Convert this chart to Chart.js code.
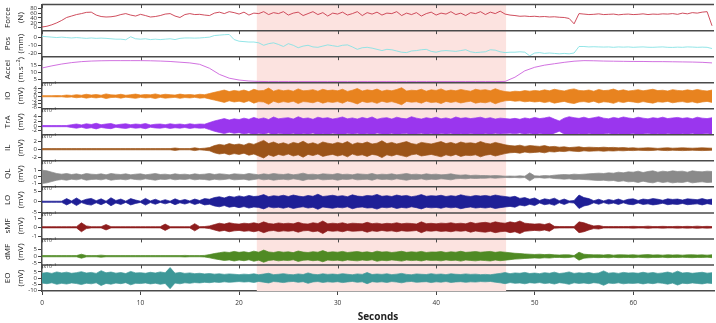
<!DOCTYPE html>
<html><head><meta charset="utf-8">
<script src="https://cdn.jsdelivr.net/npm/chart.js@4.4.1/dist/chart.umd.min.js"></script>
<style>html,body{margin:0;padding:0;background:#fff;}canvas{display:block;}</style>
</head><body>
<canvas id="c" width="716" height="323"></canvas>
<script>
// ---- sampling / axes ----
const sampleStep = 0.5;      // s between samples of force, pos and EMG envelopes
const accelStep = 1;         // s between accel samples
const xMax = 68.2;
const xTicks = [0, 10, 20, 30, 40, 50, 60];
const shadedSpan = [21.8, 47.1];

// ---- mechanical signals ----
const forceN = [3,6,12,20,30,42,48,54,58,63, 64,52,46,44,45,48,54,58,52,48, 55,50,44,46,50,56,58,48,42,54,
 58,54,55,52,50,60,64,58,66,62, 56,64,52,60,58,66,54,62,58,66, 52,60,64,50,58,66,54,62,48,60,
 56,64,52,58,66,50,62,56,64,52, 60,58,66,50,60,54,62,48,58,64, 52,60,56,66,54,60,50,62,58,66,
 54,64,58,68,56,52,50,47,48,46, 47,45,46,44,45,43,42,38,16,58, 56,54,55,57,54,55,56,53,55,56,
 54,55,57,54,56,55,57,56,58,55, 60,57,62,60,64,66,8];
const posMm = [1,0.5,0,-0.5,0,-0.5,-1,-0.5,-1,-1.5, -1,-1.5,-1.2,-1.5,-2,-2.5,-2.5,-3.2,0.5,-2,
 -2.5,-2,-3,-2.5,-3,-2.5,-2,-3,-1.5,-1, -1,-1.2,-1,-0.5,0,2,2.5,3,3.3,-3,
 -5,-5.5,-6,-6,-7,-10,-8,-7,-9,-11.5, -8,-10,-13,-11,-10,-12,-12.5,-11,-9.5,-10.5,
 -11.5,-10,-9.5,-12,-15,-13,-12.5,-13.5,-15,-16.5, -15,-15.5,-17,-18.5,-19,-17,-16.5,-15.5,-15,-17.5,
 -18.5,-17,-16.5,-17,-17.5,-16.5,-15.5,-18,-19,-18.5, -18,-15.5,-16,-18,-19,-18.5,-18.5,-18,-18.5,-23,
 -19.5,-19,-20,-19.5,-20,-20.5,-20,-20.5,-19.5,-11.5, -11.5,-12,-11.8,-12,-12.2,-12,-12.5,-12,-12.3,-12,
 -12.5,-12.2,-12,-12.4,-12.5,-12.2,-12,-12.5,-12.6,-12.3, -12.5,-12,-12.2,-12.5,-12.3,-12.5,-14];
const accelMs2 = [13,14.5,15.8,16.8,17.5,17.9,18.1,18.2,18.2,18.2, 18.2,18.1,17.9,17.6,17.1,16.6,15.6,12.8,8.5,5.8,
 4.5,3.8,3.5,3.4,3.4,3.4,3.4,3.4,3.4,3.4, 3.4,3.4,3.4,3.4,3.4,3.4,3.4,3.4,3.4,3.4,
 3.4,3.4,3.4,3.4,3.4,3.4,3.4,3.5,6.5,11, 13.5,15,16,17,17.8,18.2,18.1,17.9,17.8,17.7,
 17.6,17.6,17.5,17.5,17.4,17.3,17.2,17,16.6];

// ---- EMG amplitude envelopes (x10^-3 mV), one value per 0.5 s ----
const emgIO = [0.3,0.3,0.3,0.35,0.3,0.6,0.4,0.8,0.5,1.0, 0.6,0.9,0.5,1.2,0.7,0.6,1.0,0.5,0.8,1.1,
 0.6,0.9,0.7,1.2,0.6,1.0,0.8,0.6,1.1,0.7, 0.9,0.6,1.0,0.8,1.4,2.0,2.6,3.2,2.4,3.0,
 2.6,3.2,2.4,3.6,2.8,3.0,4.2,2.6,3.4,2.8, 3.2,2.6,3.8,2.8,3.0,3.4,2.6,3.6,2.9,3.2,
 2.8,3.6,2.5,3.1,4.0,2.7,3.3,2.9,3.7,2.6, 3.2,2.8,3.5,4.4,2.7,3.1,2.9,3.6,2.6,3.3,
 3.0,3.8,2.7,3.2,2.8,3.5,3.0,2.6,3.6,3.1, 3.4,2.8,3.9,3.0,2.4,2.2,2.6,2.4,2.9,2.6,
 3.0,2.7,3.3,2.8,3.6,3.1,2.7,3.4,3.8,3.0, 2.8,3.2,2.6,3.5,2.9,3.1,3.7,2.8,3.3,2.7,
 3.0,3.4,2.8,3.2,3.6,2.9,3.1,2.7,3.4,3.0, 2.8,3.3,2.9,3.5,3.0,2.7,3.2];
const emgTrA = [0.25,0.25,0.25,0.25,0.25,0.25,0.6,0.9,0.5,1.0, 0.7,1.2,0.6,0.9,1.1,0.5,0.8,1.0,0.6,0.9,
 0.7,1.1,0.5,0.8,0.9,0.6,1.0,0.7,0.9,0.6, 1.0,0.7,0.9,0.8,1.5,2.2,2.7,3.2,2.6,3.1,
 2.8,3.4,2.9,3.7,3.0,3.5,2.8,3.9,3.1,3.4, 3.6,3.0,4.0,3.2,3.5,2.9,3.8,3.3,3.6,3.0,
 3.4,3.9,3.1,3.5,3.0,3.7,3.2,3.9,2.9,3.4, 3.6,3.0,3.8,3.3,3.1,4.0,3.4,3.0,3.6,3.2,
 3.8,3.1,3.5,3.0,3.9,3.3,3.6,3.2,3.5,3.8, 3.2,3.6,3.0,3.4,3.2,3.0,3.3,2.9,3.5,3.1,
 3.7,3.2,3.5,3.9,3.0,2.2,3.4,4.0,3.6,3.3, 3.8,3.2,3.6,4.0,3.4,3.1,3.7,3.3,3.9,3.5,
 3.2,3.8,3.4,3.1,3.6,3.3,3.8,3.2,3.5,3.7, 3.3,3.6,3.1,3.8,3.4,3.2,3.6];
const emgIL = [0.15,0.15,0.15,0.15,0.15,0.15,0.15,0.15,0.15,0.15, 0.15,0.15,0.15,0.15,0.15,0.15,0.15,0.15,0.15,0.15,
 0.15,0.15,0.15,0.15,0.15,0.15,0.15,0.3,0.15,0.15, 0.15,0.35,0.15,0.25,0.4,0.9,1.2,1.0,1.4,1.1,
 1.3,1.0,1.5,1.2,1.7,2.2,1.4,1.8,1.3,1.6, 1.2,1.7,1.4,2.0,1.3,1.6,1.2,1.8,1.5,1.3,
 1.7,1.4,1.9,1.2,1.6,1.4,1.8,1.3,1.5,2.1, 1.4,1.7,1.3,1.6,1.9,1.4,1.2,1.7,1.5,1.3,
 1.6,1.9,1.4,1.7,1.3,1.8,1.5,1.6,1.4,1.9, 1.5,1.3,1.7,1.4,1.1,0.9,0.8,1.0,0.7,0.9,
 0.8,0.7,0.9,0.6,0.7,0.5,0.6,0.4,0.5,0.6, 0.4,0.5,0.45,0.4,0.5,0.4,0.45,0.35,0.4,0.3,
 0.35,0.25,0.3,0.35,0.3,0.2,0.3,0.35,0.25,0.3, 0.35,0.3,0.25,0.3,0.35,0.3,0.25];
const emgQL = [1.0,0.9,0.7,0.5,0.4,0.5,0.35,0.45,0.3,0.5, 0.4,0.35,0.45,0.3,0.5,0.4,0.35,0.45,0.3,0.4,
 0.45,0.3,0.4,0.5,0.35,0.4,0.3,0.45,0.35,0.4, 0.3,0.45,0.35,0.4,0.5,0.35,0.45,0.4,0.3,0.45,
 0.4,0.35,0.5,0.4,0.3,0.45,0.35,0.5,0.4,0.35, 0.45,0.3,0.4,0.55,0.35,0.4,0.3,0.45,0.4,0.35,
 0.5,0.35,0.4,0.3,0.45,0.4,0.35,0.5,0.3,0.4, 0.35,0.45,0.3,0.4,0.5,0.35,0.4,0.3,0.45,0.35,
 0.4,0.3,0.35,0.45,0.3,0.25,0.3,0.2,0.25,0.2, 0.2,0.15,0.2,0.15,0.1,0.12,0.1,0.15,0.1,0.6,
 0.15,0.12,0.2,0.15,0.25,0.3,0.35,0.3,0.4,0.35, 0.4,0.45,0.5,0.55,0.5,0.6,0.55,0.7,0.6,0.75,
 0.7,0.85,0.65,0.8,0.9,0.7,0.85,0.75,0.9,0.8, 0.85,0.7,0.9,0.8,0.75,0.85,0.8];
const emgLO = [0.27,0.27,0.27,0.27,0.27,1.5,0.4,1.8,0.4,1.2, 1.6,0.5,1.4,0.3,1.9,0.6,1.3,0.3,1.5,0.8,
 0.3,1.6,0.4,1.2,0.3,1.0,0.3,1.4,0.5,1.1, 0.4,1.3,0.6,1.5,1.2,2.0,2.4,1.8,2.6,2.2,
 2.8,2.3,3.0,2.5,2.7,3.4,2.4,2.9,2.6,3.1, 2.5,3.2,2.7,2.4,3.0,2.6,3.6,2.5,2.8,3.1,
 2.6,2.9,2.4,3.3,2.7,2.5,3.0,2.8,3.5,2.6, 2.9,2.5,3.2,2.7,3.0,2.4,2.8,3.4,2.6,2.9,
 2.7,3.1,2.5,2.9,2.6,3.3,2.8,2.5,3.0,2.7, 3.0,2.6,3.2,2.8,2.5,2.2,2.6,1.6,2.0,1.2,
 1.8,0.6,1.4,1.0,1.7,0.5,1.3,0.4,0.6,3.2, 2.0,1.5,0.5,1.2,0.4,1.1,0.6,1.3,0.5,1.2,
 1.4,0.6,1.3,1.0,1.5,1.2,0.7,1.4,1.1,1.3, 0.8,1.4,1.2,1.0,1.5,0.9,1.3];
const emgSMF = [0.07,0.07,0.07,0.07,0.07,0.07,0.07,0.07,0.5,0.15, 0.07,0.07,0.07,0.3,0.07,0.07,0.07,0.07,0.07,0.07,
 0.07,0.07,0.07,0.07,0.07,0.35,0.07,0.07,0.07,0.07, 0.07,0.4,0.07,0.08,0.15,0.3,0.45,0.35,0.5,0.4,
 0.35,0.45,0.4,0.5,0.38,0.6,0.42,0.36,0.48,0.4, 0.45,0.38,0.55,0.4,0.36,0.5,0.42,0.7,0.38,0.45,
 0.4,0.5,0.36,0.45,0.42,0.38,0.55,0.4,0.46,0.36, 0.44,0.4,0.5,0.38,0.45,0.42,0.36,0.6,0.4,0.44,
 0.38,0.46,0.42,0.5,0.4,0.45,0.38,0.55,0.42,0.5, 0.55,0.45,0.6,0.5,0.45,0.6,0.5,0.7,0.45,0.4,
 0.35,0.4,0.3,0.45,0.1,0.08,0.08,0.08,0.08,0.6, 0.5,0.3,0.15,0.2,0.08,0.08,0.08,0.08,0.08,0.08,
 0.1,0.08,0.08,0.12,0.08,0.08,0.1,0.08,0.08,0.1, 0.08,0.1,0.08,0.12,0.08,0.1,0.08];
const emgDMF = [0.45,0.45,0.45,0.45,0.45,0.45,0.45,0.45,1.5,0.5, 0.45,0.45,0.8,0.45,0.45,0.45,0.45,0.45,0.45,0.45,
 0.45,0.45,0.45,0.45,0.45,0.45,0.45,0.45,0.45,0.6, 0.45,0.45,0.45,0.6,1.2,2.0,2.6,3.2,2.8,3.6,
 2.9,3.4,2.7,3.8,3.0,4.6,3.2,2.8,3.5,3.0, 3.3,2.7,3.9,3.1,2.8,3.4,3.0,4.2,2.9,3.3,
 3.0,3.6,2.8,3.2,3.5,2.9,3.3,2.7,3.8,3.1, 3.4,2.8,3.2,3.7,2.9,3.3,3.0,3.6,2.8,3.2,
 3.1,3.5,2.8,3.3,3.0,3.7,2.9,3.2,3.5,3.0, 3.3,3.6,2.9,3.4,3.0,2.6,2.2,2.0,1.7,1.5,
 1.3,1.5,1.2,1.4,1.0,0.9,1.1,1.0,0.5,3.0, 1.5,1.2,1.0,1.1,0.9,1.2,0.8,1.1,1.0,0.9,
 1.1,0.8,1.0,1.2,0.9,1.0,0.8,1.1,0.9,1.0, 0.8,1.0,1.1,0.9,1.0,0.8,1.1];
const emgEO = [4.0,4.5,3.8,5.0,4.2,4.8,3.9,4.4,5.2,4.1, 4.6,3.8,6.0,4.3,4.9,4.0,4.5,3.7,5.4,4.2,
 4.4,3.9,4.7,4.1,5.0,4.3,8.5,4.0,4.6,3.8, 4.2,3.6,3.9,3.4,3.7,3.2,3.5,3.0,3.4,3.1,
 2.8,3.2,2.9,3.5,2.7,3.3,3.9,2.8,3.1,3.6, 3.0,2.7,3.4,2.9,4.2,3.1,2.8,3.5,3.0,3.3,
 2.9,3.6,3.1,2.7,3.4,3.0,4.5,2.9,3.3,3.0, 3.5,2.8,3.2,3.8,3.0,2.7,3.4,3.1,2.9,3.6,
 3.0,3.3,2.8,3.5,3.1,2.9,3.4,3.0,3.2,2.8, 3.0,2.7,3.3,3.8,4.5,3.6,4.2,3.9,4.6,3.7,
 4.1,3.6,4.4,3.9,4.8,3.7,4.2,5.0,3.8,4.3, 3.9,4.5,3.7,4.2,5.8,4.0,4.4,3.8,4.6,4.1,
 4.3,3.9,4.7,4.0,4.5,3.8,4.2,4.9,4.0,5.6, 4.1,4.5,3.9,4.3,4.7,4.0,4.4];

// ---- y tick labels and axis ranges ----
const forceTicks = [0,20,40,60,80],   forceRange = [-12, 95];
const posTicks = [-20,-10,0],         posRange = [-24, 8];
const accelTicks = [5,10,15],         accelRange = [2.6, 21];
const ioTicks = [-6,-4,-2,0,2,4],     ioRange = [-6.5, 7];
const traTicks = [-2,0,2,4],          traRange = [-3.7, 7.4];
const ilTicks = [-2,0,2],             ilRange = [-2.9, 3.6];
const qlTicks = [-1,0,1],             qlRange = [-1.5, 2.4];
const loTicks = [-5,0,5],             loRange = [-5.3, 7.1];
const smfTicks = [-1,0,1],            smfRange = [-1.3, 1.6];
const dmfTicks = [-5,0,5],            dmfRange = [-6.6, 13];
const eoTicks = [-10,-5,0,5],         eoRange = [-10.4, 10.6];

const FONT = "'Open Sans', 'DejaVu Sans', sans-serif";
const panels = [
  {id:'yForce', name:'Force', unit:'(N)',     kind:'line', values:forceN,   step:sampleStep, ticks:forceTicks, range:forceRange, color:'#c93a4c'},
  {id:'yPos',   name:'Pos',   unit:'(mm)',    kind:'line', values:posMm,    step:sampleStep, ticks:posTicks,   range:posRange,   color:'#86e2e4'},
  {id:'yAcc',   name:'Accel', unit:'(m.s⁻²)', kind:'line', values:accelMs2, step:accelStep,  ticks:accelTicks, range:accelRange, color:'#cc62dc'},
  {id:'yIO',  name:'IO',  unit:'(mV)', kind:'emg', values:emgIO,  ticks:ioTicks,  range:ioRange,  color:'#e8831f'},
  {id:'yTrA', name:'TrA', unit:'(mV)', kind:'emg', values:emgTrA, ticks:traTicks, range:traRange, color:'#9a36ee'},
  {id:'yIL',  name:'IL',  unit:'(mV)', kind:'emg', values:emgIL,  ticks:ilTicks,  range:ilRange,  color:'#9c5419'},
  {id:'yQL',  name:'QL',  unit:'(mV)', kind:'emg', values:emgQL,  ticks:qlTicks,  range:qlRange,  color:'#8a8a8a'},
  {id:'yLO',  name:'LO',  unit:'(mV)', kind:'emg', values:emgLO,  ticks:loTicks,  range:loRange,  color:'#1f1f96'},
  {id:'ySMF', name:'sMF', unit:'(mV)', kind:'emg', values:emgSMF, ticks:smfTicks, range:smfRange, color:'#8e1d1d'},
  {id:'yDMF', name:'dMF', unit:'(mV)', kind:'emg', values:emgDMF, ticks:dmfTicks, range:dmfRange, color:'#4f8a24'},
  {id:'yEO',  name:'EO',  unit:'(mV)', kind:'emg', values:emgEO,  ticks:eoTicks,  range:eoRange,  color:'#3d9898'}
];

const datasets = [];
panels.forEach(p => {
  if (p.kind === 'line') {
    datasets.push({type:'line', yAxisID:p.id, xAxisID:'x', borderColor:p.color, borderWidth:0.9,
      pointRadius:0, tension:0, fill:false,
      data: p.values.map((v, i) => ({x: i * p.step, y: v}))});
    return;
  }
  // EMG: upper and lower edges of the envelope, filled between them
  datasets.push({type:'line', yAxisID:p.id, xAxisID:'x', borderColor:p.color, backgroundColor:p.color,
    borderWidth:0.7, pointRadius:0, tension:0, fill:'+1',
    data: p.values.map((a, i) => ({x: i * sampleStep, y: a}))});
  datasets.push({type:'line', yAxisID:p.id, xAxisID:'x', borderColor:p.color, backgroundColor:p.color,
    borderWidth:0.7, pointRadius:0, tension:0, fill:false,
    data: p.values.map((a, i) => ({x: i * sampleStep, y: -a}))});
});

const scales = {
  x: {type:'linear', position:'bottom', min:0, max:xMax, offset:false,
    grid:{drawOnChartArea:false, offset:false, tickLength:4, color:'#444', lineWidth:1},
    border:{color:'#4a4a4a', width:1.5},
    ticks:{font:{size:6.5, family:FONT}, color:'#333', padding:4, maxRotation:0, autoSkip:false},
    afterBuildTicks: s => { s.ticks = xTicks.map(v => ({value:v})); },
    afterFit: s => { s.height = 32; },
    title:{display:true, text:'Seconds', color:'#222', font:{size:10, weight:'bold', family:FONT}, padding:{top:0, bottom:0}}
  }
};
panels.forEach((p, i) => {
  scales[p.id] = {type:'linear', position:'left', stack:'panels', stackWeight:1, weight: panels.length - i,
    min:p.range[0], max:p.range[1], offset:false,
    grid:{drawOnChartArea:false, tickLength:4, color:'#444', lineWidth:1},
    border:{color:'#4a4a4a', width:1.5},
    ticks:{font:{size:6, family:FONT}, color:'#333', padding:1, autoSkip:false, maxRotation:0},
    afterBuildTicks: s => { s.ticks = p.ticks.map(v => ({value:v})); },
    afterFit: s => { s.width = 42; },
    title:{display:true, text:[p.name, p.unit], color:'#222', font:{size:8, family:FONT, lineHeight:1.65}, padding:{top:1, bottom:0}}
  };
});

const panelFrame = {
  id:'panelFrame',
  beforeDatasetsDraw(chart) {
    const {ctx, chartArea:a, scales:s} = chart;
    const x0 = s.x.getPixelForValue(shadedSpan[0]);
    const x1 = s.x.getPixelForValue(shadedSpan[1]);
    ctx.save();
    ctx.fillStyle = '#fce3e0';
    ctx.fillRect(x0, a.top, x1 - x0, a.bottom - a.top);
    ctx.restore();
  },
  afterDatasetsDraw(chart) {
    const {ctx, chartArea:a, scales:s} = chart;
    ctx.save();
    panels.forEach(p => {
      const sc = s[p.id];
      ctx.strokeStyle = '#4a4a4a';
      ctx.lineWidth = 1.5;
      ctx.beginPath(); ctx.moveTo(a.left, sc.top); ctx.lineTo(a.right, sc.top); ctx.stroke();
      ctx.lineWidth = 1;
      xTicks.forEach(v => {
        const px = Math.round(s.x.getPixelForValue(v)) + 0.5;
        ctx.beginPath(); ctx.moveTo(px, sc.top); ctx.lineTo(px, sc.top + 3.5); ctx.stroke();
      });
      if (p.kind === 'emg') {
        ctx.fillStyle = '#333';
        ctx.font = "5px " + FONT;
        ctx.textBaseline = 'middle';
        ctx.fillText('x10⁻³', a.left + 1.5, sc.top + 1.5);
      }
    });
    ctx.restore();
  }
};

new Chart(document.getElementById('c'), {
  type:'line',
  data:{datasets},
  options:{
    responsive:false, animation:false, devicePixelRatio:1,
    layout:{padding:{top:1.5, right:2, bottom:0, left:0}},
    plugins:{legend:{display:false}, tooltip:{enabled:false}, filler:{propagate:false}},
    scales
  },
  plugins:[panelFrame]
});
</script>
</body></html>
